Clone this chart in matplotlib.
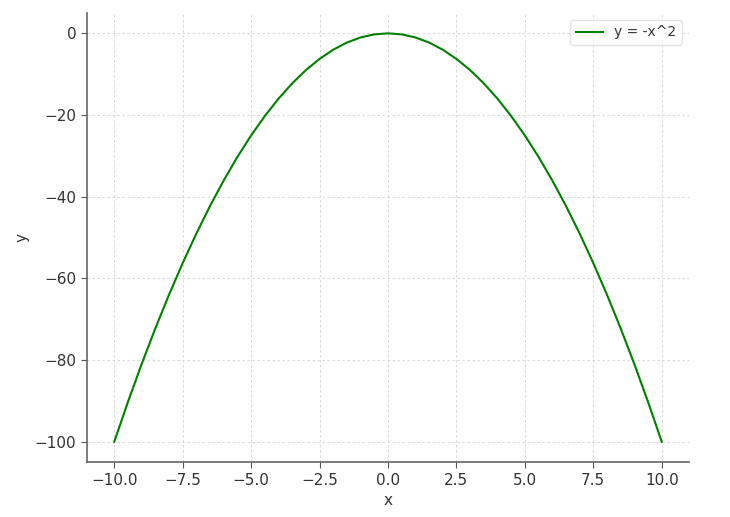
import matplotlib.pyplot as plt

# values
x_vals = [-10.0, -9.5, -9.0, -8.5, -8.0, -7.5, -7.0, -6.5, -6.0, -5.5, -5.0,
          -4.5, -4.0, -3.5, -3.0, -2.5, -2.0, -1.5, -1.0, -0.5, 0.0,
          0.5, 1.0, 1.5, 2.0, 2.5, 3.0, 3.5, 4.0, 4.5, 5.0,
          5.5, 6.0, 6.5, 7.0, 7.5, 8.0, 8.5, 9.0, 9.5, 10.0]
y_vals = [-100.0, -90.25, -81.0, -72.25, -64.0, -56.25, -49.0, -42.25, -36.0, -30.25, -25.0,
          -20.25, -16.0, -12.25, -9.0, -6.25, -4.0, -2.25, -1.0, -0.25, 0.0,
          -0.25, -1.0, -2.25, -4.0, -6.25, -9.0, -12.25, -16.0, -20.25, -25.0,
          -30.25, -36.0, -42.25, -49.0, -56.25, -64.0, -72.25, -81.0, -90.25, -100.0]
series_label = "y = -x^2"

fig = plt.figure(figsize=(7.3, 5.17), dpi=100)
ax = fig.add_axes([0.119, 0.106, 0.825, 0.869])

ax.plot(x_vals, y_vals, color="green", linewidth=1.5, label=series_label)

ax.set_xlabel("x", fontsize=11, color="#333333")
ax.set_ylabel("y", fontsize=11, color="#333333")
ax.grid(True, linestyle=(0, (3, 3)), color="#d3d3d3", linewidth=0.6)
ax.tick_params(labelsize=11, colors="#555555", labelcolor="#333333", length=4)
for side in ("top", "right"):
    ax.spines[side].set_visible(False)
for side in ("left", "bottom"):
    ax.spines[side].set_color("#666666")
    ax.spines[side].set_linewidth(1.2)

leg = ax.legend(loc="upper right", fontsize=10, labelcolor="#333333")
leg.get_frame().set_edgecolor("#dddddd")

fig.savefig("out.png", dpi=100)
